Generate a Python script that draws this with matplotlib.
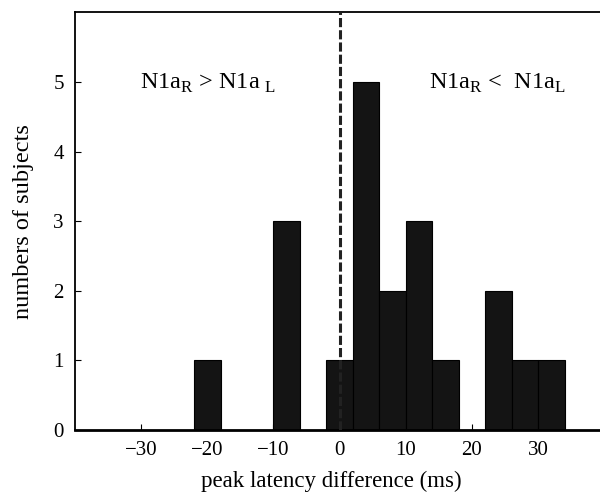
import numpy as np
import matplotlib
matplotlib.use("Agg")
import matplotlib.pyplot as plt

plt.rcParams['font.family'] = 'Liberation Serif'
plt.rcParams['mathtext.fontset'] = 'custom'
plt.rcParams['mathtext.rm'] = 'Liberation Serif'

# histogram bins (ms) and counts
bin_edges = [-22, -18, -14, -10, -6, -2, 2, 6, 10, 14, 18, 22, 26, 30, 34]
counts = [1, 0, 0, 3, 0, 1, 5, 2, 3, 1, 0, 2, 1, 1]
xticks = [-30, -20, -10, 0, 10, 20, 30]
yticks = [0, 1, 2, 3, 4, 5]

fig = plt.figure(figsize=(6, 4.94), dpi=100)
ax = fig.add_axes([0.125, 0.1296, 0.882, 0.8454])

lefts = np.array(bin_edges[:-1])
widths = np.diff(bin_edges)
ax.bar(lefts, counts, width=widths, align='edge',
       facecolor='#141414', edgecolor='black', linewidth=0.8, zorder=2)

ax.axvline(0, color='#222222', linewidth=2.2, dashes=(3, 1), zorder=3)

ax.text(-19.9, 4.98, r'N1a$_{\rm R}$ > N1a$_{\ \rm L}$', fontsize=17.5,
        ha='center', va='center')
ax.text(23.8, 4.98, r'N1a$_{\rm R}$ <  N1a$_{\rm L}$', fontsize=17.5,
        ha='center', va='center')

ax.set_xlim(-40, 40)
ax.set_ylim(0, 6)
ax.set_xticks(xticks)
ax.set_xticklabels(['\u2212%d' % -t if t < 0 else '%d' % t for t in xticks])
ax.set_yticks(yticks)
ax.tick_params(direction='in', length=4, width=0.8, labelsize=15,
               top=False, right=False, pad=8)
for s in ax.spines.values():
    s.set_linewidth(1.3)
ax.spines['bottom'].set_linewidth(2)

ax.set_xlabel('peak latency difference (ms)', fontsize=16.5)
ax.xaxis.set_label_coords(0.485, -0.097, transform=ax.transAxes)
ax.xaxis.label.set_va('top')
ax.set_ylabel('numbers of subjects', fontsize=17.5)
ax.yaxis.set_label_coords(-0.077, 0.5, transform=ax.transAxes)

fig.savefig('out.png', dpi=100)
